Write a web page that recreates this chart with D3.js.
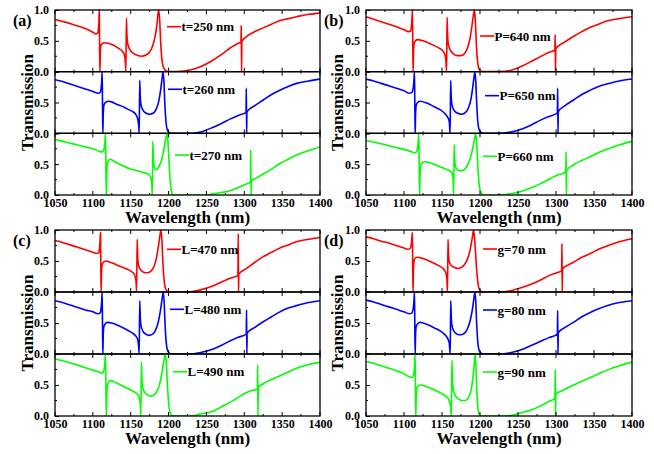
<!DOCTYPE html>
<html><head><meta charset="utf-8">
<script src="https://cdn.jsdelivr.net/npm/d3@7/dist/d3.min.js"></script>
<style>body{margin:0;background:#fff}svg text{font-family:"Liberation Serif","Times New Roman",serif !important;font-weight:bold}</style>
</head><body><svg id="c" width="654" height="454"></svg>
<script>
// ---- data ----
const xTicks = [1050,1100,1150,1200,1250,1300,1350,1400];
const yTickLabels = ["0.0","0.5","1.0"];
const panelLabels = ["(a)","(b)","(c)","(d)"];
const legendA = ["t=250 nm","t=260 nm","t=270 nm"];
const legendB = ["P=640 nm","P=650 nm","P=660 nm"];
const legendC = ["L=470 nm","L=480 nm","L=490 nm"];
const legendD = ["g=70 nm","g=80 nm","g=90 nm"];

const sA1 = [[1050,0.85],[1060,0.815],[1070,0.78],[1080,0.74],[1090,0.70],[1100,0.64],[1104,0.61],[1106,0.62],[1107.3,0.68],[1108,0.82],[1108.5,1.0],[1108.9,0.4],[1109.3,0.0],[1109.8,0.3],[1110.5,0.42],[1112,0.45],[1115,0.47],[1120,0.46],[1125,0.44],[1130,0.41],[1135,0.37],[1139,0.33],[1141.5,0.28],[1143,0.15],[1143.6,0.0],[1144.3,0.87],[1145,0.6],[1146,0.46],[1148,0.38],[1152,0.31],[1158,0.27],[1165,0.25],[1170,0.27],[1175,0.32],[1179,0.42],[1182,0.56],[1184.5,0.75],[1186,0.93],[1187,1.0],[1188.2,0.85],[1189.5,0.5],[1191,0.22],[1193,0.08],[1196,0.02],[1200,0.0],[1220,0.01],[1230,0.03],[1242,0.08],[1259,0.19],[1270,0.28],[1281,0.38],[1290,0.45],[1295.6,0.48],[1296.0,0.75],[1296.4,0.0],[1296.8,0.49],[1303,0.57],[1314,0.65],[1325,0.71],[1336,0.77],[1347,0.83],[1358,0.86],[1369,0.89],[1385,0.93],[1400,0.95]];
const sA2 = [[1050,0.87],[1060,0.84],[1070,0.80],[1080,0.76],[1090,0.72],[1100,0.68],[1107,0.65],[1109.5,0.66],[1110.8,0.72],[1111.7,0.85],[1112.3,1.0],[1112.8,0.4],[1113.2,0.0],[1113.7,0.3],[1114.5,0.45],[1116,0.49],[1120,0.52],[1125,0.51],[1130,0.48],[1140,0.43],[1148,0.38],[1153,0.35],[1157,0.3],[1159.5,0.22],[1160.7,0.1],[1161.2,0.0],[1161.9,0.86],[1162.6,0.6],[1163.5,0.47],[1166,0.38],[1170,0.33],[1175,0.31],[1180,0.33],[1184,0.4],[1187,0.52],[1189.5,0.7],[1191.5,0.9],[1192.7,1.0],[1193.8,0.85],[1195,0.5],[1196.5,0.2],[1198,0.07],[1200,0.02],[1203,0.0],[1230,0.0],[1242,0.02],[1259,0.1],[1270,0.16],[1281,0.23],[1292,0.29],[1302.3,0.34],[1302.7,0.73],[1303.1,0.0],[1303.5,0.35],[1314,0.45],[1325,0.54],[1336,0.63],[1347,0.70],[1358,0.76],[1369,0.81],[1385,0.85],[1400,0.88]];
const sA3 = [[1050,0.9],[1060,0.87],[1070,0.84],[1080,0.81],[1090,0.78],[1100,0.75],[1108,0.71],[1112,0.70],[1114,0.72],[1115.6,0.8],[1116.7,1.0],[1117.3,0.4],[1117.8,0.0],[1118.3,0.3],[1119,0.5],[1121,0.56],[1123,0.58],[1130,0.53],[1140,0.47],[1150,0.42],[1160,0.39],[1168,0.36],[1173,0.34],[1176,0.3],[1177.8,0.2],[1178.5,0.0],[1179.2,0.87],[1180,0.6],[1181,0.46],[1183,0.41],[1185,0.42],[1188,0.48],[1191,0.58],[1194,0.75],[1196.5,0.93],[1198,1.0],[1199.5,0.8],[1201,0.45],[1202.5,0.18],[1204,0.05],[1206,0.0],[1250,0.0],[1259,0.02],[1270,0.04],[1281,0.07],[1292,0.12],[1303,0.18],[1308.2,0.21],[1308.5,0.73],[1308.9,0.0],[1309.3,0.23],[1315,0.27],[1325,0.34],[1336,0.42],[1347,0.51],[1358,0.58],[1369,0.65],[1385,0.72],[1400,0.78]];

const sB1 = [[1050,0.89],[1060,0.85],[1070,0.81],[1080,0.77],[1090,0.73],[1100,0.68],[1106,0.65],[1108.5,0.66],[1109.8,0.74],[1110.6,0.88],[1111.1,1.0],[1111.6,0.4],[1112.0,0.0],[1112.5,0.3],[1113.3,0.45],[1115,0.5],[1118,0.52],[1125,0.50],[1135,0.45],[1145,0.39],[1150,0.35],[1153,0.3],[1155,0.2],[1156,0.0],[1156.7,0.88],[1157.4,0.6],[1158.3,0.45],[1161,0.35],[1165,0.29],[1170,0.26],[1175,0.26],[1180,0.3],[1184,0.4],[1187,0.55],[1189.5,0.75],[1191.5,0.93],[1192.7,1.0],[1193.8,0.85],[1195,0.5],[1196.5,0.2],[1198,0.07],[1200,0.02],[1203,0.0],[1225,0.0],[1240,0.02],[1257,0.1],[1268,0.17],[1279,0.24],[1290,0.31],[1298.5,0.35],[1298.9,0.6],[1299.3,0.0],[1299.7,0.37],[1310,0.47],[1323,0.57],[1334,0.65],[1345,0.72],[1356,0.77],[1367,0.82],[1383,0.86],[1400,0.89]];
const sB2 = [[1050,0.88],[1060,0.85],[1070,0.81],[1080,0.77],[1090,0.73],[1100,0.69],[1107,0.65],[1110,0.66],[1112.2,0.74],[1113.2,0.88],[1113.8,1.0],[1114.3,0.4],[1114.7,0.0],[1115.2,0.3],[1116,0.45],[1118,0.5],[1121,0.52],[1130,0.49],[1140,0.43],[1148,0.38],[1153,0.33],[1157,0.27],[1159.5,0.2],[1160.7,0.0],[1161.4,0.86],[1162.1,0.6],[1163,0.47],[1166,0.37],[1170,0.33],[1176,0.31],[1181,0.34],[1185,0.42],[1188,0.55],[1190.5,0.75],[1192.3,0.93],[1193.3,1.0],[1194.4,0.85],[1195.6,0.5],[1197,0.2],[1198.6,0.07],[1201,0.02],[1204,0.0],[1225,0.0],[1240,0.02],[1257,0.08],[1268,0.14],[1279,0.21],[1290,0.27],[1301.8,0.33],[1302.2,0.73],[1302.6,0.0],[1303,0.35],[1312,0.45],[1323,0.54],[1334,0.63],[1345,0.70],[1356,0.76],[1367,0.80],[1383,0.85],[1400,0.88]];
const sB3 = [[1050,0.88],[1060,0.86],[1070,0.83],[1080,0.80],[1090,0.77],[1100,0.74],[1110,0.70],[1114,0.68],[1116.5,0.7],[1118.3,0.8],[1119.5,1.0],[1120.1,0.4],[1120.6,0.0],[1121.1,0.3],[1122,0.47],[1124,0.52],[1127,0.54],[1135,0.52],[1145,0.47],[1155,0.42],[1160,0.39],[1163,0.36],[1164.6,0.28],[1165.3,0.0],[1166,0.82],[1166.7,0.58],[1167.6,0.47],[1170,0.41],[1174,0.39],[1178,0.4],[1182,0.45],[1186,0.55],[1189,0.68],[1192,0.85],[1194.3,1.0],[1195.5,0.85],[1197,0.5],[1198.6,0.2],[1200.3,0.07],[1202.5,0.02],[1206,0.0],[1228,0.0],[1240,0.02],[1257,0.07],[1268,0.12],[1279,0.18],[1290,0.25],[1301,0.32],[1312.8,0.37],[1313.2,0.70],[1313.6,0.0],[1314,0.40],[1323,0.49],[1334,0.56],[1345,0.62],[1356,0.69],[1367,0.74],[1383,0.81],[1400,0.87]];

const sC1 = [[1050,0.83],[1060,0.80],[1070,0.76],[1080,0.72],[1090,0.68],[1100,0.64],[1105,0.62],[1107.5,0.63],[1108.8,0.7],[1109.6,0.85],[1110.1,0.96],[1110.5,0.4],[1110.9,0.0],[1111.4,0.3],[1112.2,0.44],[1114,0.48],[1117,0.5],[1125,0.47],[1135,0.42],[1145,0.37],[1151,0.33],[1155,0.28],[1157,0.18],[1157.8,0.0],[1158.5,0.85],[1159.2,0.58],[1160.2,0.44],[1163,0.36],[1167,0.32],[1172,0.31],[1177,0.34],[1181,0.42],[1184,0.55],[1186.5,0.73],[1188.7,0.92],[1190,1.0],[1191.1,0.85],[1192.4,0.5],[1194,0.2],[1195.6,0.07],[1198,0.02],[1201,0.0],[1225,0.0],[1241,0.03],[1259,0.1],[1270,0.16],[1281,0.22],[1291.6,0.27],[1292,0.94],[1292.4,0.0],[1292.8,0.29],[1303,0.38],[1314,0.48],[1325,0.57],[1336,0.64],[1347,0.71],[1358,0.76],[1369,0.81],[1385,0.85],[1400,0.88]];
const sC2 = [[1050,0.86],[1060,0.83],[1070,0.79],[1080,0.75],[1090,0.71],[1100,0.68],[1107,0.65],[1109.5,0.66],[1110.8,0.73],[1111.7,0.86],[1112.3,1.0],[1112.8,0.4],[1113.2,0.0],[1113.7,0.3],[1114.5,0.44],[1116,0.48],[1119,0.51],[1125,0.50],[1135,0.45],[1145,0.39],[1152,0.34],[1156,0.3],[1159,0.24],[1160.5,0.12],[1161.2,0.0],[1161.9,0.86],[1162.6,0.6],[1163.5,0.46],[1166,0.37],[1170,0.32],[1174,0.30],[1179,0.32],[1183,0.39],[1186.5,0.52],[1189.5,0.72],[1191.8,0.92],[1193,1.0],[1194.1,0.85],[1195.3,0.5],[1196.8,0.2],[1198.3,0.07],[1200.5,0.02],[1203,0.0],[1228,0.0],[1241,0.02],[1259,0.08],[1270,0.14],[1281,0.21],[1292,0.27],[1302.6,0.32],[1303,0.71],[1303.4,0.0],[1303.8,0.34],[1314,0.43],[1325,0.52],[1336,0.60],[1347,0.68],[1358,0.74],[1369,0.78],[1385,0.83],[1400,0.86]];
const sC3 = [[1050,0.92],[1060,0.89],[1070,0.86],[1080,0.82],[1090,0.78],[1100,0.74],[1108,0.71],[1111.5,0.69],[1113.8,0.71],[1115.5,0.8],[1116.7,1.0],[1117.3,0.4],[1117.8,0.0],[1118.3,0.3],[1119,0.48],[1121,0.55],[1123,0.57],[1130,0.54],[1140,0.48],[1150,0.42],[1157,0.37],[1160.5,0.32],[1162.5,0.22],[1163.4,0.0],[1164.1,0.87],[1164.8,0.6],[1165.7,0.47],[1168,0.39],[1172,0.34],[1177,0.32],[1181,0.34],[1185,0.41],[1188.5,0.53],[1191.5,0.72],[1194,0.9],[1195.8,1.0],[1197.1,0.85],[1198.5,0.5],[1200.1,0.2],[1201.7,0.07],[1203.6,0.02],[1206,0.0],[1230,0.0],[1241,0.03],[1259,0.08],[1270,0.15],[1281,0.22],[1292,0.30],[1303,0.38],[1310,0.41],[1317.3,0.43],[1317.7,0.82],[1318.1,0.0],[1318.5,0.46],[1325,0.52],[1336,0.59],[1347,0.65],[1358,0.71],[1369,0.77],[1385,0.83],[1400,0.87]];

const sD1 = [[1050,0.89],[1060,0.86],[1070,0.82],[1080,0.79],[1090,0.75],[1100,0.71],[1105,0.69],[1108,0.70],[1109.5,0.76],[1110.4,0.88],[1111,0.96],[1111.5,0.4],[1111.9,0.0],[1112.4,0.35],[1113.2,0.5],[1115,0.55],[1118,0.56],[1125,0.54],[1135,0.49],[1145,0.43],[1152,0.37],[1155,0.31],[1156.5,0.2],[1157.2,0.0],[1157.9,0.85],[1158.6,0.6],[1159.5,0.49],[1162,0.43],[1166,0.40],[1171,0.38],[1176,0.40],[1180,0.45],[1184,0.55],[1187,0.68],[1189.8,0.87],[1191.5,1.0],[1192.8,0.88],[1194.3,0.6],[1196,0.3],[1197.8,0.1],[1200,0.03],[1204,0.0],[1225,0.0],[1240,0.02],[1257,0.08],[1268,0.13],[1279,0.19],[1290,0.26],[1301,0.31],[1307.4,0.34],[1307.8,0.78],[1308.2,0.0],[1308.6,0.37],[1315,0.43],[1323,0.48],[1334,0.56],[1345,0.62],[1356,0.69],[1367,0.74],[1383,0.81],[1400,0.86]];
const sD2 = [[1050,0.87],[1060,0.84],[1070,0.80],[1080,0.76],[1090,0.72],[1100,0.68],[1107,0.65],[1110,0.66],[1112.2,0.74],[1113.2,0.88],[1113.8,1.0],[1114.3,0.4],[1114.7,0.0],[1115.2,0.3],[1116,0.44],[1118,0.49],[1121,0.51],[1130,0.48],[1140,0.42],[1148,0.37],[1153,0.32],[1157,0.26],[1159.5,0.18],[1160.8,0.0],[1161.5,0.86],[1162.2,0.6],[1163.1,0.46],[1166,0.36],[1170,0.32],[1175,0.31],[1180,0.34],[1184,0.42],[1187.5,0.56],[1190.5,0.76],[1192.3,0.93],[1193.3,1.0],[1194.4,0.85],[1195.6,0.5],[1197,0.2],[1198.6,0.07],[1201,0.02],[1204,0.0],[1225,0.0],[1240,0.02],[1257,0.08],[1268,0.14],[1279,0.20],[1290,0.26],[1301.8,0.32],[1302.2,0.70],[1302.6,0.0],[1303,0.34],[1312,0.43],[1323,0.51],[1334,0.60],[1345,0.67],[1356,0.73],[1367,0.78],[1383,0.83],[1400,0.86]];
const sD3 = [[1050,0.88],[1060,0.85],[1070,0.81],[1080,0.77],[1090,0.73],[1100,0.68],[1107,0.63],[1110.5,0.62],[1112.5,0.66],[1113.8,0.8],[1114.6,1.0],[1115.1,0.4],[1115.5,0.0],[1116,0.3],[1116.8,0.44],[1118.5,0.48],[1121.5,0.5],[1130,0.47],[1140,0.42],[1150,0.36],[1155,0.32],[1159,0.26],[1161.3,0.16],[1162.3,0.0],[1163,0.9],[1163.7,0.62],[1164.6,0.45],[1167,0.34],[1171,0.28],[1176,0.25],[1181,0.25],[1185,0.3],[1188,0.4],[1190.5,0.6],[1192.5,0.85],[1193.6,1.0],[1194.6,0.8],[1195.7,0.45],[1196.9,0.18],[1198.2,0.05],[1200,0.01],[1203,0.0],[1230,0.0],[1242,0.01],[1257,0.06],[1268,0.10],[1279,0.16],[1290,0.23],[1298.6,0.29],[1299,0.75],[1299.4,0.0],[1299.8,0.35],[1310,0.42],[1323,0.50],[1334,0.56],[1345,0.62],[1356,0.68],[1367,0.74],[1383,0.81],[1400,0.87]];

const colors = ["#ff0000","#0000ff","#00ff00"];

// ---- layout ----
const panels = [
  {label:panelLabels[0], x0:55, x1:320, y0:10, y1:195, series:[sA1,sA2,sA3], legend:legendA,
   lab:[13,26], yTitleX:33, leg:[[167,16.7],[168,17.6],[175,21.7]]},
  {label:panelLabels[1], x0:366, x1:632, y0:10, y1:195, series:[sB1,sB2,sB3], legend:legendB,
   lab:[324,26], yTitleX:343, leg:[[480,26],[485,24],[483,23]]},
  {label:panelLabels[2], x0:55, x1:320, y0:230, y1:416, series:[sC1,sC2,sC3], legend:legendC,
   lab:[13,246], yTitleX:33, leg:[[167,19.3],[170,17.3],[173,17.7]]},
  {label:panelLabels[3], x0:366, x1:632, y0:230, y1:416, series:[sD1,sD2,sD3], legend:legendD,
   lab:[324,246], yTitleX:343, leg:[[483,19],[483,18],[483,18]]}
];

const FONT = "Liberation Serif";
const svg = d3.select("#c");
const defs = svg.append("defs");

panels.forEach((p, pi) => {
  const x = d3.scaleLinear().domain([1050,1400]).range([p.x0, p.x1]);
  const h = (p.y1 - p.y0) / 3;
  const g = svg.append("g").attr("font-family", FONT).attr("font-weight","bold");
  for (let k = 0; k < 3; k++) {
    const top = p.y0 + k*h, bot = top + h;
    const y = d3.scaleLinear().domain([0,1]).range([bot, top]);
    const cid = `clip${pi}_${k}`;
    defs.append("clipPath").attr("id", cid).append("rect")
      .attr("x", p.x0).attr("y", top - 1).attr("width", p.x1 - p.x0).attr("height", h + 1);
    const line = d3.line().x(d => x(d[0])).y(d => y(d[1])).curve(d3.curveMonotoneX);
    g.append("path").datum(p.series[k]).attr("d", line)
      .attr("fill","none").attr("stroke", colors[k]).attr("stroke-width",1.6)
      .attr("clip-path", `url(#${cid})`);
    const tk = g.append("g");
    d3.range(1050,1401,25).forEach(v => {
      const len = v % 50 === 0 ? 4 : 2;
      tk.append("line").attr("x1", x(v)).attr("x2", x(v)).attr("y1", bot).attr("y2", bot - len)
        .attr("stroke","#000").attr("stroke-width",1);
      tk.append("line").attr("x1", x(v)).attr("x2", x(v)).attr("y1", top).attr("y2", top + len)
        .attr("stroke","#000").attr("stroke-width",1);
    });
    const ya = d3.axisLeft(y).tickValues([0,0.5,1]).tickSize(-4)
      .tickFormat((d,i) => yTickLabels[i]).tickPadding(6);
    const yg = g.append("g").attr("transform", `translate(${p.x0},0)`).call(ya)
      .attr("font-family", FONT).attr("font-size", 12);
    yg.select(".domain").remove();
    yg.selectAll("text").attr("fill","#000").style("font-family", FONT).style("font-weight","bold");
    yg.selectAll(".tick").filter(d => d === 1 && k > 0).select("text").remove();
    [0.25,0.75].forEach(v => {
      g.append("line").attr("x1", p.x0).attr("x2", p.x0 + 2).attr("y1", y(v)).attr("y2", y(v))
        .attr("stroke","#000");
    });
    g.append("rect").attr("x", p.x0).attr("y", top).attr("width", p.x1 - p.x0).attr("height", h)
      .attr("fill","none").attr("stroke","#000").attr("stroke-width",1.3);
    const [lx, ly] = p.leg[k];
    g.append("line").attr("x1", lx).attr("x2", lx + 14).attr("y1", top + ly).attr("y2", top + ly)
      .attr("stroke", colors[k]).attr("stroke-width",1.6);
    g.append("text").attr("x", lx + 14.5).attr("y", top + ly + 4.5)
      .attr("font-size", 13).attr("fill","#000").style("font-family", FONT).text(p.legend[k]);
    if (k === 2) {
      const xa = d3.axisBottom(x).tickValues(xTicks).tickSize(0).tickPadding(3).tickFormat(d => String(d));
      const xg = g.append("g").attr("transform", `translate(0,${bot})`).call(xa)
        .attr("font-family", FONT).attr("font-size", 12);
      xg.select(".domain").remove();
      xg.selectAll("text").attr("fill","#000").style("font-family", FONT).style("font-weight","bold");
      g.append("text").attr("x", (p.x0 + p.x1)/2).attr("y", bot + 28).attr("text-anchor","middle")
        .attr("font-size", 17).style("font-family", FONT).text("Wavelength (nm)");
    }
  }
  g.append("text").attr("transform", `translate(${p.yTitleX},${(p.y0+p.y1)/2}) rotate(-90)`)
    .attr("text-anchor","middle").attr("font-size", 17).style("font-family", FONT).text("Transmission");
  g.append("text").attr("x", p.lab[0]).attr("y", p.lab[1]).attr("font-size", 16)
    .style("font-family", FONT).text(p.label);
});
</script></body></html>
